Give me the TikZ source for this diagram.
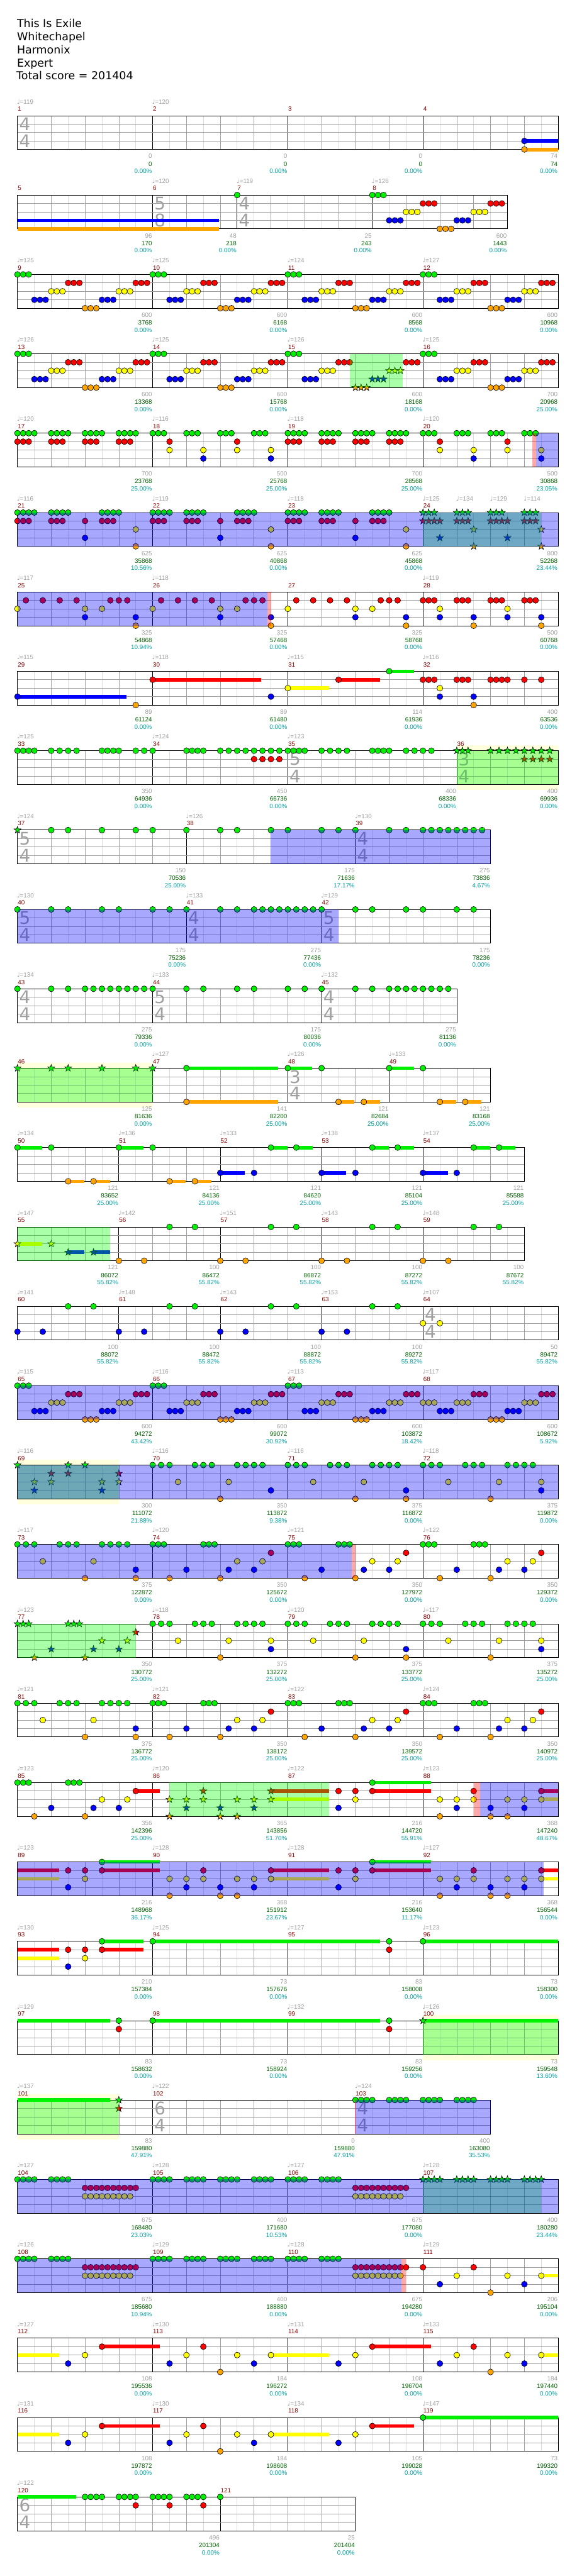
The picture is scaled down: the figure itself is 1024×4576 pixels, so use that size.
\documentclass[tikz,border=0pt]{standalone}
\usepackage{fontspec}
\setmainfont{DejaVu Sans}
\newfontfamily\lblfont{Liberation Sans}
\newfontfamily\symfont{DejaVu Sans}
\usepackage{tikz}
\definecolor{MeasNum}{HTML}{8C0000}
\definecolor{TempoGray}{HTML}{A0A0A0}
\definecolor{ScoreGray}{HTML}{A0A0A0}
\definecolor{ScoreGreen}{HTML}{006400}
\definecolor{ScoreCyan}{HTML}{00A0A0}
\definecolor{GridGray}{HTML}{A0A0A0}
\definecolor{GridLight}{HTML}{DCDCDC}
\definecolor{SigGray}{HTML}{A0A0A0}
\definecolor{Margin}{HTML}{FFFFDD}
\definecolor{SPGreen}{HTML}{00FF00}
\definecolor{L0}{HTML}{00F000}
\definecolor{L1}{HTML}{FF0000}
\definecolor{L2}{HTML}{FFFF00}
\definecolor{L3}{HTML}{0000FF}
\definecolor{L4}{HTML}{FFA500}
\newcounter{lab}
% notes, stars, sustains
\newcommand\nt[2]{\filldraw[note,fill=L#2] ({#1},{15*#2}) circle (5.2pt);}
\newcommand\nts[4]{\foreach \i in {1,...,#2}{\nt{#1+(\i-1)*#3}{#4}}}
\newcommand\stn[2]{\filldraw[note,fill=L#2] ({#1},{15*#2}) +(90:6.5pt) -- +(126:2.6pt) -- +(162:6.5pt) -- +(198:2.6pt) -- +(234:6.5pt) -- +(270:2.6pt) -- +(306:6.5pt) -- +(342:2.6pt) -- +(18:6.5pt) -- +(54:2.6pt) -- cycle;}
\newcommand\stns[4]{\foreach \i in {1,...,#2}{\stn{#1+(\i-1)*#3}{#4}}}
\newcommand\su[3]{\fill[L#3] ({#1},{15*#3-3.2}) rectangle ({#2},{15*#3+3.2});}
% staff parts
\newcommand\msr[3]{%
  \pgfmathtruncatemacro\hl{#2-1}%
  \foreach \k in {1,...,\hl}{\draw[half] ({#1+30*\k},0) -- ({#1+30*\k},60);}%
  \pgfmathtruncatemacro\bl{(#2-1)/2}%
  \foreach \k in {1,...,\bl}{\draw[beat] ({#1+60*\k},0) -- ({#1+60*\k},60);}%
  \draw[bar] (#1,0) -- (#1,60);%
  \stepcounter{lab}\node[lbl,text=MeasNum,anchor=base west] (lab\arabic{lab}) at ({#1+0.5},-8) {#3};}
\newcommand\lanes[1]{\foreach \l in {15,30,45}{\draw[beat] (31,\l) -- (#1,\l);}}
\newcommand\staffbox[1]{\draw[bar] (31,0) rectangle (#1,60);}
\newcommand\tsig[3]{\stepcounter{lab}\node[sig] (lab\arabic{lab}) at ({#1+13},15) {#2};%
  \stepcounter{lab}\node[sig] (lab\arabic{lab}) at ({#1+13},45) {#3};}
\newcommand\tempomark[2]{\stepcounter{lab}\node[lbl,text=TempoGray,anchor=base west] (lab\arabic{lab}) at ({#1-1},-21) {{\symfont\char"2669}=#2};}
\newcommand\scr[4]{%
  \stepcounter{lab}\node[lbl,text=ScoreGray,anchor=base east] (lab\arabic{lab}) at ({#1-1},76) {#2};%
  \stepcounter{lab}\node[lbl,text=ScoreGreen,anchor=base east] (lab\arabic{lab}) at ({#1-1},89.5) {#3};%
  \stepcounter{lab}\node[lbl,text=ScoreCyan,anchor=base east] (lab\arabic{lab}) at ({#1-1},102.5) {#4};}
% star power overlays
\newcommand\spb[2]{\fill[L3,fill opacity=.34] (#1,0) rectangle (#2,60);}
\newcommand\spg[2]{\fill[SPGreen,fill opacity=.34] (#1,0) rectangle (#2,60);}
\newcommand\spr[2]{\fill[L1,fill opacity=.34] (#1,0) rectangle (#2,60);}
\newcommand\spy[2]{\fill[Margin] (#1,-10) rectangle (#2,70);}
% repeated bars
\newcommand\patA[2]{\foreach \dx/\l in {0/#2,30/3,60/2,90/1,120/4,150/3,180/2,210/1}{\nts{#1+\dx}{3}{10}{\l}}}
\newcommand\patB[1]{\foreach \dx in {0,60,120,180}{\nts{#1+\dx}{4}{10}{0}\nts{#1+\dx}{3}{10}{1}}}
\newcommand\patC[1]{\foreach \dx in {0,60,120,180}{\nts{#1+\dx}{3}{10}{0}}%
  \foreach \dx/\l in {30/1,30/2,90/2,90/3,150/1,150/2,210/2,210/3}{\nt{#1+\dx}{\l}}}
\newcommand\patD[1]{\foreach \dx in {0,60,150}{\nts{#1+\dx}{4}{10}{0}\nts{#1+\dx}{3}{10}{1}}%
  \foreach \dx/\l in {120/1,120/3,210/2,210/4}{\nt{#1+\dx}{\l}}}
\newcommand\patE[1]{\foreach \dx in {15,45,75,105}{\nt{#1+\dx}{1}}\nts{#1+165}{3}{15}{1}%
  \foreach \dx/\l in {0/2,120/2,150/2,120/3,210/3,210/4}{\nt{#1+\dx}{\l}}}
\newcommand\patF[1]{\nts{#1}{3}{15}{0}\nts{#1+75}{3}{15}{0}\nts{#1+150}{4}{15}{0}%
  \nt{#1+45}{2}\nt{#1+135}{2}\nt{#1+120}{4}\nt{#1+210}{3}}
\newcommand\patG[1]{\nts{#1}{3}{10}{0}\nts{#1+90}{3}{10}{0}%
  \foreach \dx/\l in {210/1,150/2,195/2,60/3,135/3,180/3,30/4,120/4}{\nt{#1+\dx}{\l}}}
\newcommand\patH[3]{\foreach \dx/\l in {30/4,30/2,60/3,60/2,90/1,90/2,120/3,120/4,150/2,150/4,180/3,180/2}{#2{#1+\dx}{\l}}%
  \su{#1+210}{#3}{1}\su{#1+210}{#3}{2}#2{#1+210}{1}#2{#1+210}{2}}
\newcommand\patJ[1]{\nt{#1+90}{3}\nt{#1+90}{1}\nt{#1+120}{1}\nt{#1+120}{2}%
  \su{#1+150}{#1+254}{1}\su{#1+150}{#1+254}{0}\nt{#1+150}{1}\nt{#1+150}{0}}

\begin{document}
\begin{tikzpicture}[x=1pt,y=-1pt,
  half/.style={draw=GridLight,line width=0.8pt},
  beat/.style={draw=GridGray,line width=0.8pt},
  bar/.style={draw=black,line width=0.9pt},
  note/.style={draw=black,line width=0.7pt},
  lbl/.style={font=\lblfont\fontsize{11}{11}\selectfont,inner sep=0pt},
  sig/.style={font=\symfont\fontsize{31}{31}\selectfont,text=SigGray,inner sep=0pt},
  title/.style={font=\fontsize{19.5}{23}\selectfont,inner sep=0pt,anchor=base west}]
\fill[white] (0,0) rectangle (1024,4576);
\useasboundingbox (0,0) rectangle (1024,4576);
\node[title] (song) at (30,49) {This Is Exile};
\node[title] (artist) at (30,72) {Whitechapel};
\node[title] (charter) at (30,95.5) {Harmonix};
\node[title] (level) at (30,118.5) {Expert};
\node[title] (total) at (29,141.5) {Total score = 201404};

% row 1
\begin{scope}[shift={(0,205.5)}]
\foreach \xa/\nb/\mn in {31/8/1,271/8/2,511/8/3,751/8/4}{\msr{\xa}{\nb}{\mn}}
\lanes{991}\staffbox{991}\tsig{31}{4}{4}
\su{931}{991}{3}\su{931}{991}{4}\nt{931}{3}\nt{931}{4}
\foreach \xa/\tb in {31/119,271/120}{\tempomark{\xa}{\tb}}
\foreach \xa/\sa/\sb/\sc in {271/0/0/0.00\%,511/0/0/0.00\%,751/0/0/0.00\%,991/74/74/0.00\%}{\scr{\xa}{\sa}{\sb}{\sc}}
\end{scope}

% row 2
\begin{scope}[shift={(0,346.5)}]
\foreach \xa/\nb/\mn in {31/8/5,271/5/6,421/8/7,661/8/8}{\msr{\xa}{\nb}{\mn}}
\lanes{901}\staffbox{901}\tsig{271}{5}{8}\tsig{421}{4}{4}
\su{31}{389}{3}\su{31}{389}{4}\nt{421}{0}\patA{661}{0}
\foreach \xa/\tb in {271/120,421/119,661/126}{\tempomark{\xa}{\tb}}
\foreach \xa/\sa/\sb/\sc in {271/96/170/0.00\%,421/48/218/0.00\%,661/25/243/0.00\%,901/600/1443/0.00\%}{\scr{\xa}{\sa}{\sb}{\sc}}
\end{scope}

% row 3
\begin{scope}[shift={(0,487.5)}]
\foreach \xa/\nb/\mn in {31/8/9,271/8/10,511/8/11,751/8/12}{\msr{\xa}{\nb}{\mn}}
\lanes{991}\staffbox{991}
\foreach \xa in {31,271,511,751}{\patA{\xa}{0}}
\foreach \xa/\tb in {31/125,271/125,511/124,751/127}{\tempomark{\xa}{\tb}}
\foreach \xa/\sa/\sb/\sc in {271/600/3768/0.00\%,511/600/6168/0.00\%,751/600/8568/0.00\%,991/600/10968/0.00\%}{\scr{\xa}{\sa}{\sb}{\sc}}
\end{scope}

% row 4
\begin{scope}[shift={(0,628.5)}]
\foreach \xa/\nb/\mn in {31/8/13,271/8/14,511/8/15,751/8/16}{\msr{\xa}{\nb}{\mn}}
\lanes{991}\staffbox{991}
\foreach \xa in {31,271,751}{\patA{\xa}{0}}
\foreach \dx/\l in {0/0,30/3,60/2,90/1,210/1}{\nts{511+\dx}{3}{10}{\l}}
\foreach \dx/\l in {120/4,150/3,180/2}{\stns{511+\dx}{3}{10}{\l}}
\spg{621}{715}
\foreach \xa/\tb in {31/126,271/125,511/126,751/125}{\tempomark{\xa}{\tb}}
\foreach \xa/\sa/\sb/\sc in {271/600/13368/0.00\%,511/600/15768/0.00\%,751/600/18168/0.00\%,991/700/20968/25.00\%}{\scr{\xa}{\sa}{\sb}{\sc}}
\end{scope}

% row 5
\begin{scope}[shift={(0,769.5)}]
\foreach \xa/\nb/\mn in {31/8/17,271/8/18,511/8/19,751/8/20}{\msr{\xa}{\nb}{\mn}}
\lanes{991}\staffbox{991}
\patB{31}\patC{271}\patB{511}\patC{751}
\spr{945}{952}\spb{952}{991}
\foreach \xa/\tb in {31/120,271/116,511/118,751/120}{\tempomark{\xa}{\tb}}
\foreach \xa/\sa/\sb/\sc in {271/700/23768/25.00\%,511/500/25768/25.00\%,751/700/28568/25.00\%,991/500/30868/23.05\%}{\scr{\xa}{\sa}{\sb}{\sc}}
\end{scope}

% row 6
\begin{scope}[shift={(0,910.5)}]
\foreach \xa/\nb/\mn in {31/8/21,271/8/22,511/8/23,751/8/24}{\msr{\xa}{\nb}{\mn}}
\lanes{991}\staffbox{991}
\patD{31}\patD{271}\patD{511}
\stns{751}{3}{10}{0}\stns{751}{4}{10}{1}\stns{811}{3}{10}{0}\stns{811}{3}{10}{1}
\stns{871}{3}{10}{0}\stns{871}{4}{10}{1}\stns{931}{3}{10}{0}\stns{931}{3}{10}{1}
\foreach \xa/\l in {781/3,901/3,841/2,961/2,841/4,961/4}{\stn{\xa}{\l}}
\spg{751}{961}\spb{31}{991}
\foreach \xa/\tb in {31/116,271/119,511/118,751/125,811/134,871/129,931/114}{\tempomark{\xa}{\tb}}
\foreach \xa/\sa/\sb/\sc in {271/625/35868/10.56\%,511/625/40868/0.00\%,751/625/45868/0.00\%,991/800/52268/23.44\%}{\scr{\xa}{\sa}{\sb}{\sc}}
\end{scope}

% row 7
\begin{scope}[shift={(0,1051.5)}]
\foreach \xa/\nb/\mn in {31/8/25,271/8/26,511/8/27,751/8/28}{\msr{\xa}{\nb}{\mn}}
\lanes{991}\staffbox{991}
\patE{31}\patE{271}\patE{511}
\foreach \dx in {0,60,120,180}{\nts{751+\dx}{3}{10}{1}}
\foreach \dx/\l in {30/2,150/2,30/3,90/3,150/3,210/3,90/4,210/4}{\nt{751+\dx}{\l}}
\spb{31}{475}\spr{475}{481}
\foreach \xa/\tb in {31/117,271/118,751/119}{\tempomark{\xa}{\tb}}
\foreach \xa/\sa/\sb/\sc in {271/325/54868/10.94\%,511/325/57468/0.00\%,751/325/58768/0.00\%,991/500/60768/0.00\%}{\scr{\xa}{\sa}{\sb}{\sc}}
\end{scope}

% row 8
\begin{scope}[shift={(0,1192.5)}]
\foreach \xa/\nb/\mn in {31/8/29,271/8/30,511/8/31,751/8/32}{\msr{\xa}{\nb}{\mn}}
\lanes{991}\staffbox{991}
\su{31}{225}{3}\nt{31}{3}\nt{241}{4}\su{271}{464}{1}\nt{271}{1}\nt{481}{3}
\su{511}{584}{2}\nt{511}{2}\su{601}{675}{1}\nt{601}{1}\su{691}{735}{0}\nt{691}{0}
\nts{751}{3}{10}{1}\nt{781}{2}\nt{781}{3}\nts{811}{3}{10}{1}\nt{841}{3}\nt{841}{4}
\nts{871}{4}{10}{1}\nt{931}{1}\nt{961}{1}
\foreach \xa/\tb in {31/115,271/118,511/115,751/116}{\tempomark{\xa}{\tb}}
\foreach \xa/\sa/\sb/\sc in {271/89/61124/0.00\%,511/89/61480/0.00\%,751/114/61936/0.00\%,991/400/63536/0.00\%}{\scr{\xa}{\sa}{\sb}{\sc}}
\end{scope}

% row 9
\begin{scope}[shift={(0,1333.5)}]
\spy{811}{991}
\foreach \xa/\nb/\mn in {31/8/33,271/8/34,511/10/35,811/6/36}{\msr{\xa}{\nb}{\mn}}
\lanes{991}\staffbox{991}\tsig{511}{5}{4}\tsig{811}{3}{4}
\foreach \xa in {31,41,51,61,91,106,121,136,181,191,201,211,241,256,271,331,341,351,361,391,406,421,436,451,466,481,496,511,521,531,541,571,586,601,616,661,671,681,691,721,736,751,766}{\nt{\xa}{0}}
\foreach \xa in {451,466,481,496}{\nt{\xa}{1}}
\stns{811}{3}{10}{0}\stns{871}{8}{15}{0}\stns{931}{4}{15}{1}
\spg{811}{991}
\foreach \xa/\tb in {31/125,271/124,511/123}{\tempomark{\xa}{\tb}}
\foreach \xa/\sa/\sb/\sc in {271/350/64936/0.00\%,511/450/66736/0.00\%,811/400/68336/0.00\%,991/400/69936/0.00\%}{\scr{\xa}{\sa}{\sb}{\sc}}
\end{scope}

% row 10
\begin{scope}[shift={(0,1474.5)}]
\foreach \xa/\nb/\mn in {31/10/37,331/10/38,631/8/39}{\msr{\xa}{\nb}{\mn}}
\lanes{871}\staffbox{871}\tsig{31}{5}{4}\tsig{631}{4}{4}
\stn{31}{0}
\foreach \xa in {91,121,181,241,271,331,391,421,481,511,571,601,631,691,721,751,766,781,796,811,826,841,856}{\nt{\xa}{0}}
\spb{480}{871}
\foreach \xa/\tb in {31/124,331/126,631/130}{\tempomark{\xa}{\tb}}
\foreach \xa/\sa/\sb/\sc in {331/150/70536/25.00\%,631/175/71636/17.17\%,871/275/73836/4.67\%}{\scr{\xa}{\sa}{\sb}{\sc}}
\end{scope}

% row 11
\begin{scope}[shift={(0,1615.5)}]
\foreach \xa/\nb/\mn in {31/10/40,331/8/41,571/10/42}{\msr{\xa}{\nb}{\mn}}
\lanes{871}\staffbox{871}\tsig{31}{5}{4}\tsig{331}{4}{4}\tsig{571}{5}{4}
\foreach \xa in {31,91,121,181,211,271,301,331,391,421,451,466,481,496,511,526,541,556,571,631,661,721,751,811,841}{\nt{\xa}{0}}
\spb{31}{601}
\foreach \xa/\tb in {31/130,331/133,571/129}{\tempomark{\xa}{\tb}}
\foreach \xa/\sa/\sb/\sc in {331/175/75236/0.00\%,571/275/77436/0.00\%,871/175/78236/0.00\%}{\scr{\xa}{\sa}{\sb}{\sc}}
\end{scope}

% row 12
\begin{scope}[shift={(0,1756.5)}]
\foreach \xa/\nb/\mn in {31/8/43,271/10/44,571/8/45}{\msr{\xa}{\nb}{\mn}}
\lanes{811}\staffbox{811}\tsig{31}{4}{4}\tsig{271}{5}{4}\tsig{571}{4}{4}
\foreach \xa in {31,91,121,151,166,181,196,211,226,241,256,271,331,361,421,451,511,541,571,631,661,691,706,721,736,751,766,781,796}{\nt{\xa}{0}}
\foreach \xa/\tb in {31/134,271/133,571/132}{\tempomark{\xa}{\tb}}
\foreach \xa/\sa/\sb/\sc in {271/275/79336/0.00\%,571/175/80036/0.00\%,811/275/81136/0.00\%}{\scr{\xa}{\sa}{\sb}{\sc}}
\end{scope}

% row 13
\begin{scope}[shift={(0,1897.5)}]
\spy{31}{271}
\foreach \xa/\nb/\mn in {31/8/46,271/8/47,511/6/48,691/6/49}{\msr{\xa}{\nb}{\mn}}
\lanes{871}\staffbox{871}\tsig{511}{3}{4}
\foreach \xa in {31,91,121,181,241,271}{\stn{\xa}{0}}
\su{331}{494}{0}\su{331}{494}{4}\nt{331}{0}\nt{331}{4}
\su{511}{554}{0}\nt{511}{0}\nt{571}{0}\su{601}{629}{4}\nt{601}{4}\su{646}{675}{4}\nt{646}{4}
\su{691}{735}{0}\nt{691}{0}\nt{751}{0}\su{781}{810}{4}\nt{781}{4}\su{826}{855}{4}\nt{826}{4}
\spg{31}{271}
\foreach \xa/\tb in {271/127,511/126,691/133}{\tempomark{\xa}{\tb}}
\foreach \xa/\sa/\sb/\sc in {271/125/81636/0.00\%,511/141/82200/25.00\%,691/121/82684/25.00\%,871/121/83168/25.00\%}{\scr{\xa}{\sa}{\sb}{\sc}}
\end{scope}

% row 14
\begin{scope}[shift={(0,2038.5)}]
\foreach \xa/\nb/\mn in {31/6/50,211/6/51,391/6/52,571/6/53,751/6/54}{\msr{\xa}{\nb}{\mn}}
\lanes{931}\staffbox{931}
\foreach \xa in {31,211}{\su{\xa}{\xa+44}{0}\nt{\xa}{0}\nt{\xa+60}{0}\su{\xa+90}{\xa+119}{4}\nt{\xa+90}{4}\su{\xa+135}{\xa+164}{4}\nt{\xa+135}{4}}
\foreach \xa in {391,571,751}{\su{\xa}{\xa+44}{3}\nt{\xa}{3}\nt{\xa+60}{3}\su{\xa+90}{\xa+119}{0}\nt{\xa+90}{0}\su{\xa+135}{\xa+164}{0}\nt{\xa+135}{0}}
\foreach \xa/\tb in {31/134,211/136,391/133,571/138,751/137}{\tempomark{\xa}{\tb}}
\foreach \xa/\sa/\sb/\sc in {211/121/83652/25.00\%,391/121/84136/25.00\%,571/121/84620/25.00\%,751/121/85104/25.00\%,931/121/85588/25.00\%}{\scr{\xa}{\sa}{\sb}{\sc}}
\end{scope}

% row 15
\begin{scope}[shift={(0,2179.5)}]
\foreach \xa/\nb/\mn in {31/6/55,211/6/56,391/6/57,571/6/58,751/6/59}{\msr{\xa}{\nb}{\mn}}
\lanes{931}\staffbox{931}
\su{31}{75}{2}\stn{31}{2}\stn{91}{2}\su{121}{150}{3}\stn{121}{3}\su{166}{195}{3}\stn{166}{3}
\foreach \xa in {211,391,571,751}{\nt{\xa}{4}\nt{\xa+45}{4}\nt{\xa+90}{0}\nt{\xa+135}{0}}
\spg{31}{195}
\foreach \xa/\tb in {31/147,211/142,391/151,571/143,751/148}{\tempomark{\xa}{\tb}}
\foreach \xa/\sa/\sb/\sc in {211/121/86072/55.82\%,391/100/86472/55.82\%,571/100/86872/55.82\%,751/100/87272/55.82\%,931/100/87672/55.82\%}{\scr{\xa}{\sa}{\sb}{\sc}}
\end{scope}

% row 16
\begin{scope}[shift={(0,2320.5)}]
\foreach \xa/\nb/\mn in {31/6/60,211/6/61,391/6/62,571/6/63,751/8/64}{\msr{\xa}{\nb}{\mn}}
\lanes{991}\staffbox{991}\tsig{751}{4}{4}
\foreach \xa in {31,211,391,571}{\nt{\xa}{3}\nt{\xa+45}{3}\nt{\xa+90}{0}\nt{\xa+135}{0}}
\nt{751}{2}\nt{781}{2}
\foreach \xa/\tb in {31/141,211/148,391/143,571/153,751/107}{\tempomark{\xa}{\tb}}
\foreach \xa/\sa/\sb/\sc in {211/100/88072/55.82\%,391/100/88472/55.82\%,571/100/88872/55.82\%,751/100/89272/55.82\%,991/50/89472/55.82\%}{\scr{\xa}{\sa}{\sb}{\sc}}
\end{scope}

% row 17
\begin{scope}[shift={(0,2461.5)}]
\foreach \xa/\nb/\mn in {31/8/65,271/8/66,511/8/67,751/8/68}{\msr{\xa}{\nb}{\mn}}
\lanes{991}\staffbox{991}
\patA{31}{0}\patA{271}{0}\patA{511}{0}\patA{751}{2}
\spb{31}{991}
\foreach \xa/\tb in {31/115,271/116,511/113,751/117}{\tempomark{\xa}{\tb}}
\foreach \xa/\sa/\sb/\sc in {271/600/94272/43.42\%,511/600/99072/30.92\%,751/600/103872/18.42\%,991/600/108672/5.92\%}{\scr{\xa}{\sa}{\sb}{\sc}}
\end{scope}

% row 18
\begin{scope}[shift={(0,2602.5)}]
\spy{31}{211}
\foreach \xa/\nb/\mn in {31/8/69,271/8/70,511/8/71,751/8/72}{\msr{\xa}{\nb}{\mn}}
\lanes{991}\staffbox{991}
\foreach \xa/\l in {31/0,121/0,151/0,91/1,121/1,211/1,61/2,91/2,181/2,211/2,61/3,181/3}{\stn{\xa}{\l}}
\patF{271}\patF{511}\nt{721}{4}\patF{751}\nt{961}{2}
\spg{31}{211}\spb{31}{991}
\foreach \xa/\tb in {31/116,271/116,511/116,751/118}{\tempomark{\xa}{\tb}}
\foreach \xa/\sa/\sb/\sc in {271/300/111072/21.88\%,511/350/113872/9.38\%,751/375/116872/0.00\%,991/375/119872/0.00\%}{\scr{\xa}{\sa}{\sb}{\sc}}
\end{scope}

% row 19
\begin{scope}[shift={(0,2743.5)}]
\foreach \xa/\nb/\mn in {31/8/73,271/8/74,511/8/75,751/8/76}{\msr{\xa}{\nb}{\mn}}
\lanes{991}\staffbox{991}
\patF{31}\nt{241}{4}\patG{271}\patG{511}\patG{751}
\spb{31}{625}\spr{625}{631}
\foreach \xa/\tb in {31/117,271/120,511/121,751/122}{\tempomark{\xa}{\tb}}
\foreach \xa/\sa/\sb/\sc in {271/375/122872/0.00\%,511/350/125672/0.00\%,751/350/127972/0.00\%,991/350/129372/0.00\%}{\scr{\xa}{\sa}{\sb}{\sc}}
\end{scope}

% row 20
\begin{scope}[shift={(0,2884.5)}]
\foreach \xa/\nb/\mn in {31/8/77,271/8/78,511/8/79,751/8/80}{\msr{\xa}{\nb}{\mn}}
\lanes{991}\staffbox{991}
\stns{31}{3}{10}{0}\stns{121}{3}{10}{0}
\foreach \xa/\l in {241/1,181/2,226/2,91/3,166/3,211/3,61/4,151/4}{\stn{\xa}{\l}}
\patF{271}\nt{481}{2}\patF{511}\nt{721}{4}\patF{751}\nt{961}{2}
\spg{31}{241}
\foreach \xa/\tb in {31/123,271/118,511/120,751/117}{\tempomark{\xa}{\tb}}
\foreach \xa/\sa/\sb/\sc in {271/350/130772/25.00\%,511/375/132272/25.00\%,751/375/133772/25.00\%,991/375/135272/25.00\%}{\scr{\xa}{\sa}{\sb}{\sc}}
\end{scope}

% row 21
\begin{scope}[shift={(0,3025.5)}]
\foreach \xa/\nb/\mn in {31/8/81,271/8/82,511/8/83,751/8/84}{\msr{\xa}{\nb}{\mn}}
\lanes{991}\staffbox{991}
\patF{31}\nt{241}{4}\patG{271}\patG{511}\patG{751}
\foreach \xa/\tb in {31/121,271/121,511/122,751/124}{\tempomark{\xa}{\tb}}
\foreach \xa/\sa/\sb/\sc in {271/375/136772/25.00\%,511/350/138172/25.00\%,751/350/139572/25.00\%,991/350/140972/25.00\%}{\scr{\xa}{\sa}{\sb}{\sc}}
\end{scope}

% row 22
\begin{scope}[shift={(0,3166.5)}]
\foreach \xa/\nb/\mn in {31/8/85,271/8/86,511/8/87,751/8/88}{\msr{\xa}{\nb}{\mn}}
\lanes{991}\staffbox{991}
\nts{31}{3}{10}{0}\nts{121}{3}{10}{0}
\foreach \xa/\l in {181/2,226/2,91/3,166/3,211/3,61/4,151/4}{\nt{\xa}{\l}}
\su{241}{284}{1}\nt{241}{1}
\patH{271}{\stn}{584}\patJ{511}\patH{751}{\nt}{991}
\spg{301}{584}\spr{841}{852}\spb{852}{991}
\foreach \xa/\tb in {31/123,271/120,511/122,751/123}{\tempomark{\xa}{\tb}}
\foreach \xa/\sa/\sb/\sc in {271/356/142396/25.00\%,511/365/143856/51.70\%,751/216/144720/55.91\%,991/368/147240/48.67\%}{\scr{\xa}{\sa}{\sb}{\sc}}
\end{scope}

% row 23
\begin{scope}[shift={(0,3307.5)}]
\foreach \xa/\nb/\mn in {31/8/89,271/8/90,511/8/91,751/8/92}{\msr{\xa}{\nb}{\mn}}
\lanes{991}\staffbox{991}
\su{31}{105}{1}\su{31}{105}{2}
\foreach \xa/\l in {121/3,121/1,151/1,151/2}{\nt{\xa}{\l}}
\su{181}{284}{0}\su{181}{284}{1}\nt{181}{0}\nt{181}{1}
\patH{271}{\nt}{584}\patJ{511}\patH{751}{\nt}{991}
\spb{31}{965}
\foreach \xa/\tb in {31/123,271/128,511/128,751/127}{\tempomark{\xa}{\tb}}
\foreach \xa/\sa/\sb/\sc in {271/216/148968/36.17\%,511/368/151912/23.67\%,751/216/153640/11.17\%,991/368/156544/0.00\%}{\scr{\xa}{\sa}{\sb}{\sc}}
\end{scope}

% row 24
\begin{scope}[shift={(0,3448.5)}]
\foreach \xa/\nb/\mn in {31/8/93,271/8/94,511/8/95,751/8/96}{\msr{\xa}{\nb}{\mn}}
\lanes{991}\staffbox{991}
\su{31}{105}{1}\su{31}{105}{2}
\foreach \xa/\l in {121/1,121/3,151/1,151/2}{\nt{\xa}{\l}}
\su{181}{255}{0}\su{181}{255}{1}\nt{181}{0}\nt{181}{1}
\su{271}{675}{0}\nt{271}{0}\nt{691}{0}\nt{691}{1}\su{751}{991}{0}\nt{751}{0}
\foreach \xa/\tb in {31/130,271/125,511/127,751/123}{\tempomark{\xa}{\tb}}
\foreach \xa/\sa/\sb/\sc in {271/210/157384/0.00\%,511/73/157676/0.00\%,751/83/158008/0.00\%,991/73/158300/0.00\%}{\scr{\xa}{\sa}{\sb}{\sc}}
\end{scope}

% row 25
\begin{scope}[shift={(0,3589.5)}]
\spy{751}{991}
\foreach \xa/\nb/\mn in {31/8/97,271/8/98,511/8/99,751/8/100}{\msr{\xa}{\nb}{\mn}}
\lanes{991}\staffbox{991}
\su{31}{195}{0}\nt{211}{0}\nt{211}{1}\su{271}{675}{0}\nt{271}{0}\nt{691}{0}\nt{691}{1}
\su{751}{991}{0}\stn{751}{0}
\spg{751}{991}
\foreach \xa/\tb in {31/129,511/132,751/126}{\tempomark{\xa}{\tb}}
\foreach \xa/\sa/\sb/\sc in {271/83/158632/0.00\%,511/73/158924/0.00\%,751/83/159256/0.00\%,991/73/159548/13.60\%}{\scr{\xa}{\sa}{\sb}{\sc}}
\end{scope}

% row 26
\begin{scope}[shift={(0,3730.5)}]
\spy{31}{211}
\foreach \xa/\nb/\mn in {31/8/101,271/12/102,631/8/103}{\msr{\xa}{\nb}{\mn}}
\lanes{871}\staffbox{871}\tsig{271}{6}{4}\tsig{631}{4}{4}
\su{31}{195}{0}\stn{211}{0}\stn{211}{1}
\foreach \xa in {631,691,751,811}{\nts{\xa}{4}{10}{0}}
\spg{31}{211}\spb{631}{871}
\draw[L1!70,line width=1.5pt] (631,0) -- (631,60);
\foreach \xa/\tb in {31/137,271/122,631/124}{\tempomark{\xa}{\tb}}
\foreach \xa/\sa/\sb/\sc in {271/83/159880/47.91\%,631/0/159880/47.91\%,871/400/163080/35.53\%}{\scr{\xa}{\sa}{\sb}{\sc}}
\end{scope}

% row 27
\begin{scope}[shift={(0,3871.5)}]
\foreach \xa/\nb/\mn in {31/8/104,271/8/105,511/8/106,751/8/107}{\msr{\xa}{\nb}{\mn}}
\lanes{991}\staffbox{991}
\nts{31}{4}{10}{0}\nts{91}{4}{10}{0}\nts{151}{10}{10}{1}\nts{151}{9}{10}{2}
\foreach \xa in {271,331,391,451}{\nts{\xa}{4}{10}{0}}
\nts{511}{4}{10}{0}\nts{571}{4}{10}{0}\nts{631}{10}{10}{1}\nts{631}{9}{10}{2}
\foreach \xa in {751,811,871,931}{\stns{\xa}{4}{10}{0}}
\spg{751}{961}\spb{31}{991}
\foreach \xa/\tb in {31/127,271/128,511/127,751/128}{\tempomark{\xa}{\tb}}
\foreach \xa/\sa/\sb/\sc in {271/675/168480/23.03\%,511/400/171680/10.53\%,751/675/177080/0.00\%,991/400/180280/23.44\%}{\scr{\xa}{\sa}{\sb}{\sc}}
\end{scope}

% row 28
\begin{scope}[shift={(0,4012.5)}]
\foreach \xa/\nb/\mn in {31/8/108,271/8/109,511/8/110,751/8/111}{\msr{\xa}{\nb}{\mn}}
\lanes{991}\staffbox{991}
\nts{31}{4}{10}{0}\nts{91}{4}{10}{0}\nts{151}{10}{10}{1}\nts{151}{9}{10}{2}
\foreach \xa in {271,331,391,451}{\nts{\xa}{4}{10}{0}}
\nts{511}{4}{10}{0}\nts{571}{4}{10}{0}\nts{631}{10}{10}{1}\nts{631}{9}{10}{2}
\foreach \xa/\l in {751/1,841/1,781/3,931/3,811/2,901/2,871/4}{\nt{\xa}{\l}}
\su{961}{991}{2}\nt{961}{2}
\spb{31}{713}\spr{713}{721}
\foreach \xa/\tb in {31/126,271/129,511/128,751/129}{\tempomark{\xa}{\tb}}
\foreach \xa/\sa/\sb/\sc in {271/675/185680/10.94\%,511/400/188880/0.00\%,751/675/194280/0.00\%,991/206/195104/0.00\%}{\scr{\xa}{\sa}{\sb}{\sc}}
\end{scope}

% row 29
\begin{scope}[shift={(0,4153.5)}]
\foreach \xa/\nb/\mn in {31/8/112,271/8/113,511/8/114,751/8/115}{\msr{\xa}{\nb}{\mn}}
\lanes{991}\staffbox{991}
\su{31}{105}{2}\nt{121}{3}\nt{151}{2}\su{181}{284}{1}\nt{181}{1}
\foreach \xa/\l in {301/3,331/2,361/1,391/4,421/2,451/3}{\nt{\xa}{\l}}
\su{481}{584}{2}\nt{481}{2}\nt{601}{3}\nt{631}{2}\su{661}{765}{1}\nt{661}{1}
\foreach \xa/\l in {781/3,811/2,841/1,871/4,901/2,931/3}{\nt{\xa}{\l}}
\su{961}{991}{2}\nt{961}{2}
\foreach \xa/\tb in {31/127,271/130,511/131,751/133}{\tempomark{\xa}{\tb}}
\foreach \xa/\sa/\sb/\sc in {271/108/195536/0.00\%,511/184/196272/0.00\%,751/108/196704/0.00\%,991/184/197440/0.00\%}{\scr{\xa}{\sa}{\sb}{\sc}}
\end{scope}

% row 30
\begin{scope}[shift={(0,4294.5)}]
\foreach \xa/\nb/\mn in {31/8/116,271/8/117,511/8/118,751/8/119}{\msr{\xa}{\nb}{\mn}}
\lanes{991}\staffbox{991}
\su{31}{105}{2}\nt{121}{3}\nt{151}{2}\su{181}{284}{1}\nt{181}{1}
\foreach \xa/\l in {301/3,331/2,361/1,391/4,421/2,451/3}{\nt{\xa}{\l}}
\su{481}{584}{2}\nt{481}{2}\nt{601}{3}\nt{631}{2}\su{661}{735}{1}\nt{661}{1}
\su{751}{991}{0}\nt{751}{0}
\foreach \xa/\tb in {31/131,271/130,511/134,751/147}{\tempomark{\xa}{\tb}}
\foreach \xa/\sa/\sb/\sc in {271/108/197872/0.00\%,511/184/198608/0.00\%,751/105/199028/0.00\%,991/73/199320/0.00\%}{\scr{\xa}{\sa}{\sb}{\sc}}
\end{scope}

% row 31
\begin{scope}[shift={(0,4435.5)}]
\foreach \xa/\nb/\mn in {31/12/120,391/8/121}{\msr{\xa}{\nb}{\mn}}
\lanes{631}\staffbox{631}\tsig{31}{6}{4}
\su{31}{135}{0}
\foreach \xa in {151,211,271,331}{\nts{\xa}{4}{10}{0}}\nt{391}{0}
\foreach \xa in {241,301,361}{\nt{\xa}{1}}
\tempomark{31}{122}
\foreach \xa/\sa/\sb/\sc in {391/496/201304/0.00\%,631/25/201404/0.00\%}{\scr{\xa}{\sa}{\sb}{\sc}}
\end{scope}
\end{tikzpicture}
\end{document}
